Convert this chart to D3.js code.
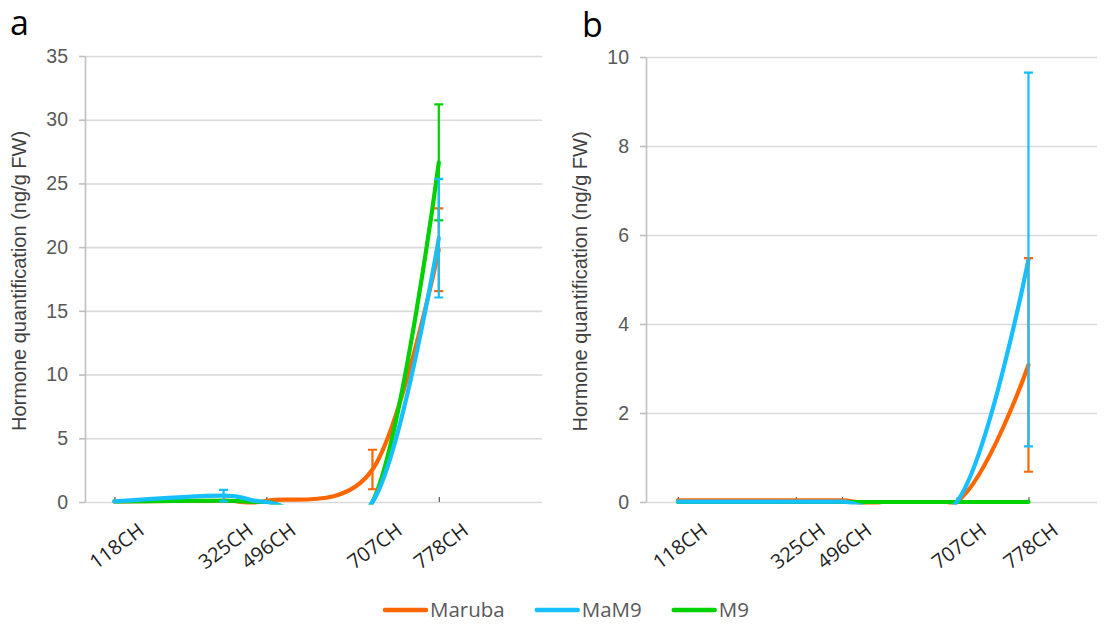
<!DOCTYPE html>
<html>
<head>
<meta charset="utf-8">
<script src="https://cdn.jsdelivr.net/npm/d3@7"></script>
<style>
  body { margin: 0; background: #fff; }
  svg text { font-family: Arial, "Liberation Sans", sans-serif; }
</style>
</head>
<body>
<svg id="chart" width="1107" height="624"></svg>
<script>
var categories = ["118CH", "325CH", "496CH", "707CH", "778CH"];
// position of each sample along the horizontal value axis
var xValues = [1, 4.7, 6.15, 9.75, 12];
var seriesNames = ["Maruba", "MaM9", "M9"];
var seriesColors = ["#FF6600", "#16BFFF", "#00D100"];

// panel a
var marubaA = [0.05, 0.1, 0.1, 2.55, 19.8];
var mam9A = [0.05, 0.5, 0, 0, 20.7];
var m9A = [0.05, 0.1, 0, 0, 26.65];
var marubaErrA = [0, 0, 0, 1.55, 3.25];
var mam9ErrA = [0, 0.45, 0, 0, 4.65];
var m9ErrA = [0, 0, 0, 0, 4.55];
var yTicksA = [0, 5, 10, 15, 20, 25, 30, 35];

// panel b
var marubaB = [0.035, 0.035, 0.035, 0, 3.08];
var mam9B = [0.01, 0.01, 0.01, 0, 5.45];
var m9B = [0, 0, 0, 0, 0];
var marubaErrB = [0, 0, 0, 0, 2.4];
var mam9ErrB = [0, 0, 0, 0, 4.2];
var m9ErrB = [0, 0, 0, 0, 0];
var yTicksB = [0, 2, 4, 6, 8, 10];

var svg = d3.select("#chart");
svg.append("rect").attr("width", 1107).attr("height", 624).attr("fill", "#fff");

// lines are stacked orange, green, blue
var drawOrder = [0, 2, 1];

function drawPanel(p) {
    var g = svg.append("g");
    var x = d3.scaleLinear().domain([0, p.xMax]).range([p.left, p.right]);
    var y = d3.scaleLinear().domain([0, p.yMax]).range([p.bottom, p.top]);

    // gridlines
    g.append("g")
        .attr("transform", "translate(" + p.left + ",0)")
        .call(d3.axisLeft(y).tickValues(p.yTicks).tickSize(-(p.right - p.left)).tickFormat(""))
        .call(function (s) {
            s.select(".domain").remove();
            s.selectAll("line").attr("stroke", "#D9D9D9").attr("stroke-width", 1.6);
        });

    // y axis
    g.append("g")
        .attr("transform", "translate(" + p.left + ",0)")
        .call(d3.axisLeft(y).tickValues(p.yTicks).tickSize(6).tickPadding(11).tickSizeOuter(0))
        .call(function (s) {
            s.select(".domain").attr("stroke", "#BFBFBF").attr("stroke-width", 1.6);
            s.selectAll("line").attr("stroke", "#BFBFBF").attr("stroke-width", 1.6);
            s.selectAll("text").attr("fill", "#595959").style("font-size", "19.5px")
                .style("font-family", "Arial, 'Liberation Sans', sans-serif");
        });

    // little tick marks at each sample
    g.append("g")
        .attr("transform", "translate(0," + p.bottom + ")")
        .call(d3.axisBottom(x).tickValues(xValues).tickSize(-5).tickFormat(""))
        .call(function (s) {
            s.select(".domain").remove();
            s.selectAll("line").attr("stroke", "#595959").attr("stroke-width", 1.2);
        });

    // category labels
    g.selectAll(".xlab")
        .data(categories)
        .enter().append("text")
        .attr("class", "xlab")
        .attr("text-anchor", "end")
        .attr("transform", function (d, i) {
            return "translate(" + (x(xValues[i]) + 31) + "," + (p.bottom + 31) + ") rotate(-37)";
        })
        .attr("fill", "#1F1F1F")
        .style("font-family", "'Open Sans', sans-serif")
        .style("font-size", "20px")
        .text(function (d) { return d; });

    // axis title
    g.append("text")
        .attr("transform", "translate(" + (p.left - 59) + "," + ((p.top + p.bottom) / 2 + 2) + ") rotate(-90)")
        .attr("text-anchor", "middle")
        .attr("fill", "#404040")
        .style("font-size", "20px")
        .text("Hormone quantification (ng/g FW)");

    // panel letter
    g.append("text")
        .attr("x", p.letterX)
        .attr("y", p.letterY)
        .attr("fill", "#000")
        .style("font-family", "'Open Sans', sans-serif")
        .style("font-size", "34px")
        .text(p.letter);

    var clipId = "clip" + p.letter;
    svg.append("clipPath").attr("id", clipId)
        .append("rect")
        .attr("x", p.left)
        .attr("y", p.top - 10)
        .attr("width", p.right - p.left)
        .attr("height", p.bottom - p.top + 12.5);

    var plot = g.append("g").attr("clip-path", "url(#" + clipId + ")");

    var line = d3.line()
        .x(function (d, i) { return x(xValues[i]); })
        .y(function (d) { return y(d); })
        .curve(d3.curveCardinal.tension(0));

    drawOrder.forEach(function (k) {
        plot.append("path")
            .datum(p.values[k])
            .attr("fill", "none")
            .attr("stroke", seriesColors[k])
            .attr("stroke-width", 4.2)
            .attr("stroke-linejoin", "round")
            .attr("stroke-linecap", "round")
            .attr("d", line);
    });

    // error bars
    [0, 2, 1].forEach(function (k) {
        var bars = p.values[k].map(function (v, i) {
            return { x: xValues[i], v: v, e: p.errors[k][i] };
        }).filter(function (d) { return d.e > 0; });

        var eb = plot.selectAll(".eb" + k).data(bars).enter().append("g")
            .attr("stroke", seriesColors[k])
            .attr("stroke-width", 2.2);

        eb.append("line")
            .attr("x1", function (d) { return x(d.x); })
            .attr("x2", function (d) { return x(d.x); })
            .attr("y1", function (d) { return y(d.v + d.e); })
            .attr("y2", function (d) { return y(Math.max(d.v - d.e, 0)); });

        eb.append("line")
            .attr("x1", function (d) { return x(d.x) - 4.5; })
            .attr("x2", function (d) { return x(d.x) + 4.5; })
            .attr("y1", function (d) { return y(d.v + d.e); })
            .attr("y2", function (d) { return y(d.v + d.e); });

        eb.filter(function (d) { return d.v - d.e > 0; }).append("line")
            .attr("x1", function (d) { return x(d.x) - 4.5; })
            .attr("x2", function (d) { return x(d.x) + 4.5; })
            .attr("y1", function (d) { return y(d.v - d.e); })
            .attr("y2", function (d) { return y(d.v - d.e); });
    });
}

drawPanel({
    letter: "a", letterX: 10, letterY: 35,
    left: 85, right: 542, top: 56, bottom: 502,
    xMax: 15.5, yMax: 35, yTicks: yTicksA,
    values: [marubaA, mam9A, m9A],
    errors: [marubaErrA, mam9ErrA, m9ErrA]
});

drawPanel({
    letter: "b", letterX: 582, letterY: 37,
    left: 646, right: 1097, top: 57, bottom: 502,
    xMax: 14.15, yMax: 10, yTicks: yTicksB,
    values: [marubaB, mam9B, m9B],
    errors: [marubaErrB, mam9ErrB, m9ErrB]
});

// legend
var legend = svg.append("g").attr("transform", "translate(383,610)");
var lx = 0;
seriesNames.forEach(function (name, i) {
    legend.append("line")
        .attr("x1", lx + 2).attr("x2", lx + 43)
        .attr("y1", 0).attr("y2", 0)
        .attr("stroke", seriesColors[i])
        .attr("stroke-width", 4.5)
        .attr("stroke-linecap", "round");
    var t = legend.append("text")
        .attr("x", lx + 47)
        .attr("y", 7)
        .attr("fill", "#595959")
        .style("font-family", "'Open Sans', sans-serif")
        .style("font-size", "20.5px")
        .text(name);
    lx += 47 + t.node().getComputedTextLength() + 30;
});
</script>
</body>
</html>
